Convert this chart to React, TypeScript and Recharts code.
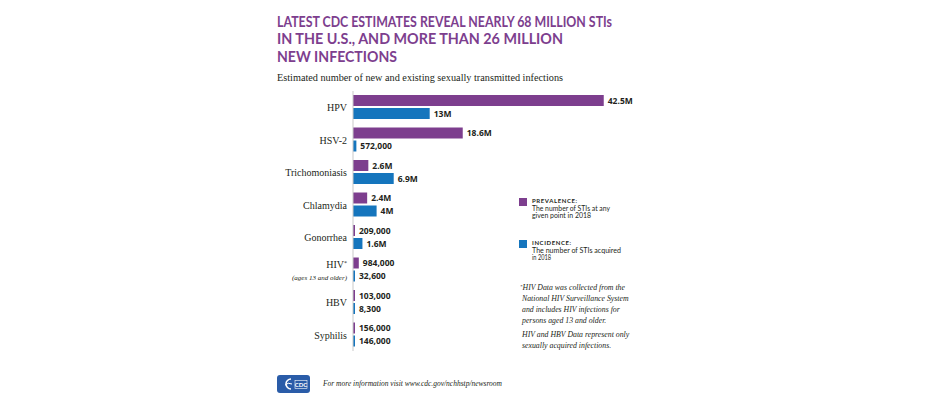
import React from 'react';
import { BarChart, Bar, XAxis, YAxis, LabelList } from 'recharts';

const categories = ['HPV', 'HSV-2', 'Trichomoniasis', 'Chlamydia', 'Gonorrhea', 'HIV*', 'HBV', 'Syphilis'];
// values in millions
const prevalence = [42.5, 18.6, 2.6, 2.4, 0.209, 0.984, 0.103, 0.156];
const incidence = [13, 0.572, 6.9, 4, 1.6, 0.0326, 0.0083, 0.146];
const prevalenceLabels = ['42.5M', '18.6M', '2.6M', '2.4M', '209,000', '984,000', '103,000', '156,000'];
const incidenceLabels = ['13M', '572,000', '6.9M', '4M', '1.6M', '32,600', '8,300', '146,000'];

const PURPLE = '#7d3e8e';
const BLUE = '#1575bd';

const data = categories.map((name, i) => ({
  name,
  prevalence: prevalence[i],
  incidence: incidence[i],
  prevLabel: prevalenceLabels[i],
  incLabel: incidenceLabels[i],
}));

const serif = '"Liberation Serif", "DejaVu Serif", serif';
const sans = 'Lato, "Open Sans", sans-serif';

const CategoryTick = ({ x, y, payload }: any) => {
  if (payload.value === 'HIV*') {
    return (
      <g>
        <text x={x} y={y - 2} textAnchor="end" fontFamily={serif} fontSize={10} fill="#231f20">
          HIV<tspan fontSize={6} dy={-3}>*</tspan>
        </text>
        <text x={x} y={y + 10} textAnchor="end" fontFamily={serif} fontStyle="italic" fontSize={7} fill="#231f20">
          (ages 13 and older)
        </text>
      </g>
    );
  }
  return (
    <text x={x} y={y + 4} textAnchor="end" fontFamily={serif} fontSize={10} fill="#231f20">
      {payload.value}
    </text>
  );
};

const valueLabelStyle = {
  fontFamily: '"Open Sans", sans-serif',
  fontSize: 8.5,
  fontWeight: 700,
};

const Overlay = () => (
  <svg width={940} height={400} style={{ position: 'absolute', left: 0, top: 0, pointerEvents: 'none' }}>
    <g fontFamily={sans} fontWeight={700} fontSize={15} fill={PURPLE}>
      <text x={277} y={27} textLength={335} lengthAdjust="spacingAndGlyphs">
        LATEST CDC ESTIMATES REVEAL NEARLY 68 MILLION STIs
      </text>
      <text x={277} y={44} textLength={286} lengthAdjust="spacingAndGlyphs">
        IN THE U.S., AND MORE THAN 26 MILLION
      </text>
      <text x={277} y={61.5} textLength={120} lengthAdjust="spacingAndGlyphs">
        NEW INFECTIONS
      </text>
    </g>
    <text x={277} y={81} fontFamily={serif} fontSize={10} fill="#231f20" textLength={286} lengthAdjust="spacingAndGlyphs">
      Estimated number of new and existing sexually transmitted infections
    </text>

    {/* legend */}
    <g fontFamily={sans} fill="#231f20">
      <rect x={519} y={198} width={8} height={8} fill={PURPLE} />
      <text x={532} y={202.5} fontWeight={700} fontSize={6} letterSpacing={0.6}>PREVALENCE:</text>
      <text x={532} y={210.5} fontSize={7} textLength={78} lengthAdjust="spacingAndGlyphs">The number of STIs at any</text>
      <text x={532} y={217.5} fontSize={7} textLength={59} lengthAdjust="spacingAndGlyphs">given point in 2018</text>

      <rect x={519} y={240} width={8} height={8} fill={BLUE} />
      <text x={532} y={244.5} fontWeight={700} fontSize={6} letterSpacing={0.6}>INCIDENCE:</text>
      <text x={532} y={252.5} fontSize={7} textLength={89} lengthAdjust="spacingAndGlyphs">The number of STIs acquired</text>
      <text x={532} y={259.5} fontSize={7} textLength={19} lengthAdjust="spacingAndGlyphs">in 2018</text>
    </g>

    {/* footnotes */}
    <g fontFamily={serif} fontStyle="italic" fontSize={7.8} fill="#231f20">
      <text x={520} y={290}><tspan fontSize={5} dy={-2}>*</tspan><tspan dy={2}>HIV Data was collected from the</tspan></text>
      <text x={522} y={301}>National HIV Surveillance System</text>
      <text x={522} y={312}>and includes HIV infections for</text>
      <text x={522} y={323}>persons aged 13 and older.</text>
      <text x={522} y={337}>HIV and HBV Data represent only</text>
      <text x={522} y={348}>sexually acquired infections.</text>
    </g>

    {/* footer */}
    <rect x={277} y={375} width={33} height={18} rx={3} fill="#2a5ca8" />
    <path d="M291 379 a5 5 0 1 0 0 10" fill="none" stroke="#fff" strokeWidth={1.6} />
    <path d="M285 385 q3 -3 7 -1" fill="none" stroke="#fff" strokeWidth={1} />
    <rect x={295} y={380.5} width={12} height={8} fill="none" stroke="#fff" strokeWidth={0.6} />
    <text x={301} y={387} textAnchor="middle" fontFamily={sans} fontWeight={700} fontSize={6} fill="#fff">CDC</text>
    <text x={323} y={386} fontFamily={serif} fontStyle="italic" fontSize={7.7} fill="#231f20" textLength={179} lengthAdjust="spacingAndGlyphs">
      For more information visit www.cdc.gov/nchhstp/newsroom
    </text>
  </svg>
);

export default function App() {
  return (
    <div style={{ position: 'absolute', left: 0, top: 0, width: 940, height: 400, background: '#fff' }}>
      <BarChart
        width={940}
        height={400}
        data={data}
        layout="vertical"
        margin={{ top: 91, right: 292, bottom: 49, left: 0 }}
        barSize={11}
        barGap={2}
      >
        <XAxis type="number" domain={[0, 50]} hide />
        <YAxis
          type="category"
          dataKey="name"
          width={353}
          axisLine={{ stroke: '#c9c9c9' }}
          tickLine={false}
          tickSize={0}
          tickMargin={6}
          interval={0}
          tick={<CategoryTick />}
        />
        <Bar dataKey="prevalence" fill={PURPLE} minPointSize={2} isAnimationActive={false}>
          <LabelList dataKey="prevLabel" position="right" offset={4} fill="#231f20" style={valueLabelStyle} />
        </Bar>
        <Bar dataKey="incidence" fill={BLUE} minPointSize={2} isAnimationActive={false}>
          <LabelList dataKey="incLabel" position="right" offset={4} fill="#231f20" style={valueLabelStyle} />
        </Bar>
      </BarChart>
      <Overlay />
    </div>
  );
}
